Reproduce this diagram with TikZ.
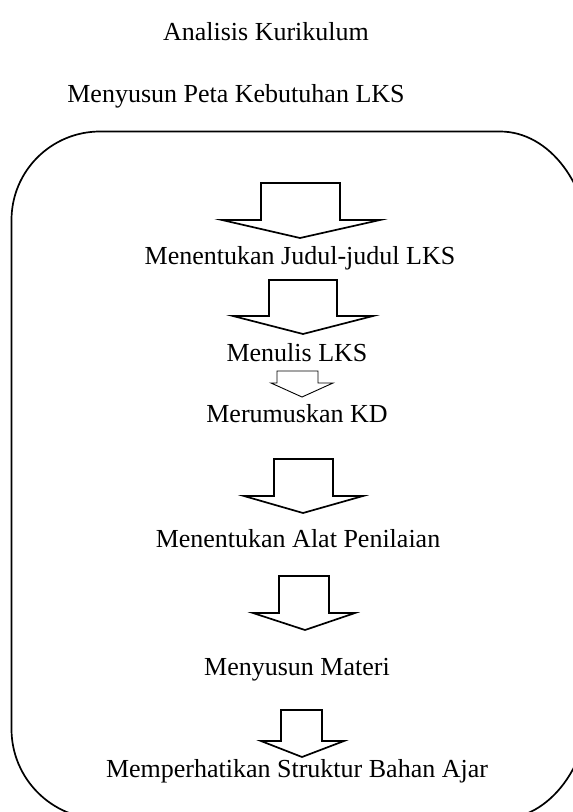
\documentclass[tikz,border=0pt]{standalone}
\usepackage{fontspec}
\setmainfont{Liberation Serif}
\tikzset{
  lbl/.style={anchor=base, inner sep=0pt, font=\fontsize{26}{30}\selectfont},
  frame/.style={draw=black, line width=1.7pt},
  blk/.style={draw=black, line width=1.7pt, line join=miter},
  thinblk/.style={blk, line width=0.9pt}
}
% block arrow: style, left, right, top, shoulder y, head left, head right, tip x, tip y
\newcommand{\BlockArr}[9][blk]{%
  \draw[#1] (#2,#4) -- (#3,#4) -- (#3,#5) -- (#7,#5) -- (#8,#9) -- (#6,#5) -- (#2,#5) -- cycle;}
\begin{document}
\begin{tikzpicture}[x=1pt,y=-1pt]
\useasboundingbox (0,0) rectangle (573,812);
\begin{scope}
\clip (0,0) rectangle (573,812);
\draw[frame] (11.5,220) arc[start angle=180, end angle=270, x radius=88.5, y radius=88.5]
  -- (500,131.5) arc[start angle=270, end angle=360, x radius=90, y radius=120]
  -- (590,699) arc[start angle=0, end angle=90, x radius=90, y radius=120]
  -- (101.5,819) arc[start angle=90, end angle=180, x radius=90, y radius=90]
  -- cycle;
\end{scope}
\BlockArr{261}{340}{183}{220}{222}{380}{300}{238}
\BlockArr{269}{337}{280}{316}{233}{373}{303}{334}
\BlockArr[thinblk]{277}{318}{371}{383}{271}{333}{302}{397}
\BlockArr{274}{333}{459}{496}{244}{363}{303}{513}
\BlockArr{279}{329}{576}{613}{253}{355}{305}{630}
\BlockArr{281}{322}{710}{741}{261}{344}{302}{757}
\node[lbl] (t1) at (266,40) {Analisis Kurikulum};
\node[lbl] (t2) at (236,102) {Menyusun Peta Kebutuhan LKS};
\node[lbl] (t3) at (300,264) {Menentukan Judul-judul LKS};
\node[lbl] (t4) at (297,361) {Menulis LKS};
\node[lbl] (t5) at (297,422) {Merumuskan KD};
\node[lbl] (t6) at (298,547) {Menentukan Alat Penilaian};
\node[lbl] (t7) at (297,675) {Menyusun Materi};
\node[lbl] (t8) at (297,777) {Memperhatikan Struktur Bahan Ajar};
\end{tikzpicture}
\end{document}
